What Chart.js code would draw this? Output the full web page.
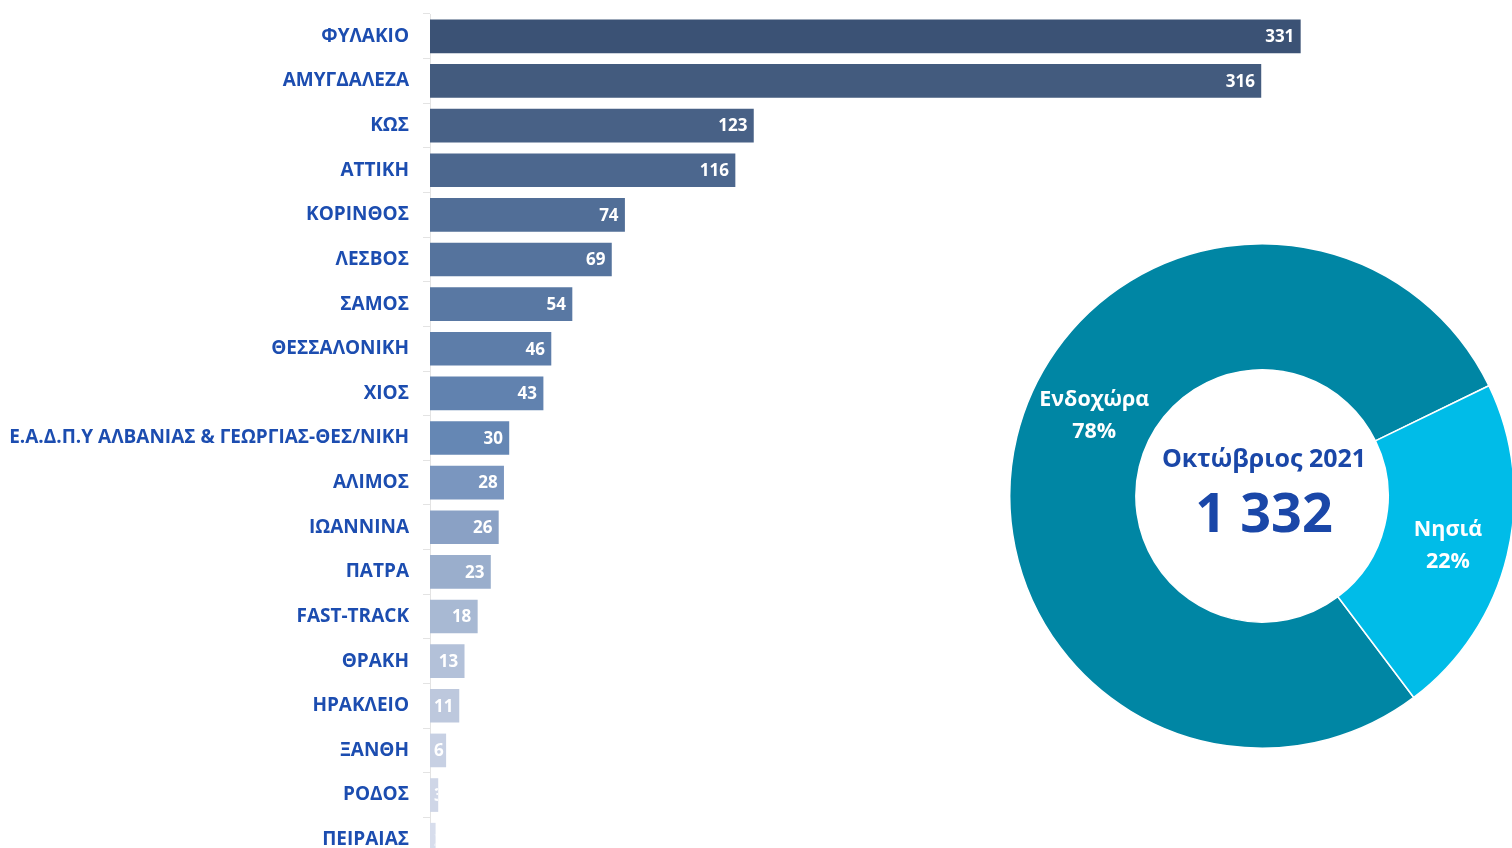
<!DOCTYPE html>
<html>
<head>
<meta charset="utf-8">
<script src="https://cdn.jsdelivr.net/npm/chart.js@4.4.1/dist/chart.umd.min.js"></script>
<style>
  html, body { margin:0; padding:0; background:#fff; width:1512px; height:848px; overflow:hidden; }
  #bars { position:absolute; left:0; top:0; }
  #donut { position:absolute; left:1009px; top:243px; }
</style>
</head>
<body>
<canvas id="bars" width="1324" height="862"></canvas>
<canvas id="donut" width="506" height="506"></canvas>
<script>
var locations = ['ΦΥΛΑΚΙΟ','ΑΜΥΓΔΑΛΕΖΑ','ΚΩΣ','ΑΤΤΙΚΗ','ΚΟΡΙΝΘΟΣ','ΛΕΣΒΟΣ','ΣΑΜΟΣ','ΘΕΣΣΑΛΟΝΙΚΗ','ΧΙΟΣ',
  'Ε.Α.Δ.Π.Υ ΑΛΒΑΝΙΑΣ & ΓΕΩΡΓΙΑΣ-ΘΕΣ/ΝΙΚΗ','ΑΛΙΜΟΣ','ΙΩΑΝΝΙΝΑ','ΠΑΤΡΑ','FAST-TRACK','ΘΡΑΚΗ','ΗΡΑΚΛΕΙΟ','ΞΑΝΘΗ','ΡΟΔΟΣ','ΠΕΙΡΑΙΑΣ'];
var counts = [331,316,123,116,74,69,54,46,43,30,28,26,23,18,13,11,6,3,2];
var barColors = ['#3b5275','#435b7e','#486186','#4c678e','#516e97','#55739d','#5978a3','#5d7da9','#6182af','#6587b4',
  '#7a96bf','#8aa1c5','#9aaecc','#a8b9d3','#b3c1d9','#bdc8dd','#c7d0e3','#cfd6e7','#d7ddec'];

var regions = ['Ενδοχώρα','Νησιά'];
var regionCounts = [1040,292];
var regionColors = ['#0086a4','#00bce8'];
var periodTitle = 'Οκτώβριος 2021';
var totalText = '1 332';

var blue = '#1c4db0';
var fontFam = '"Open Sans", "Noto Sans", sans-serif';

// white value labels at the inner end of each bar, clipped to the bar
var barValues = {
  id: 'barValues',
  afterDatasetsDraw: function(chart)
  {
    var ctx = chart.ctx;
    var meta = chart.getDatasetMeta(0);
    ctx.save();
    ctx.font = 'bold 17px ' + fontFam;
    ctx.fillStyle = '#ffffff';
    ctx.textBaseline = 'middle';
    ctx.textAlign = 'right';
    meta.data.forEach(function(bar, i)
    {
      var txt = String(counts[i]);
      var w = ctx.measureText(txt).width;
      var x = Math.max(bar.x - 6, bar.base + 4 + w);
      ctx.save();
      ctx.beginPath();
      ctx.rect(bar.base, bar.y - bar.height/2, bar.x - bar.base, bar.height);
      ctx.clip();
      ctx.fillText(txt, x, bar.y + 1);
      ctx.restore();
    });
    ctx.restore();
  }
};

new Chart(document.getElementById('bars'), {
  type: 'bar',
  data: {
    labels: locations,
    datasets: [{ data: counts, backgroundColor: barColors, borderWidth: 0, barThickness: 33 }]
  },
  options: {
    indexAxis: 'y',
    responsive: false,
    animation: false,
    layout: { padding: { top: 14, bottom: 0, right: 0, left: 0 } },
    plugins: { legend: { display: false }, tooltip: { enabled: false } },
    scales: {
      x: { display: false, min: 0, max: 340 },
      y: {
        afterFit: function(scale) {
          scale.width = 430;
          scale.paddingTop = 0;
          scale.paddingBottom = 0;
        },
        border: { display: true, color: '#e3e3e3', width: 1 },
        grid: { drawOnChartArea: false, drawTicks: true, tickLength: 7, color: '#e3e3e3', offset: true },
        ticks: { color: blue, padding: 14, font: { family: fontFam, size: 19, weight: 'bold' } }
      }
    }
  },
  plugins: [barValues]
});

// labels on the ring plus the centre title and total
var labelFrac = [0.545, 0.5];
var labelDrop = [3, 6];
var donutText = {
  id: 'donutText',
  afterDatasetsDraw: function(chart)
  {
    var ctx = chart.ctx;
    var meta = chart.getDatasetMeta(0);
    var total = regionCounts.reduce(function(a,b){ return a+b; }, 0);
    ctx.save();
    ctx.textAlign = 'center';
    ctx.textBaseline = 'middle';
    ctx.fillStyle = '#ffffff';
    ctx.font = 'bold 21.5px ' + fontFam;
    meta.data.forEach(function(arc, i)
    {
      var a = arc.startAngle + labelFrac[i] * (arc.endAngle - arc.startAngle);
      var r = (arc.innerRadius + arc.outerRadius) / 2;
      var x = arc.x + r * Math.cos(a) + 2;
      var y = arc.y + r * Math.sin(a) + labelDrop[i];
      ctx.fillText(regions[i], x, y - 16);
      ctx.fillText(Math.round(regionCounts[i] * 100 / total) + '%', x, y + 16);
    });
    var c = meta.data[0];
    ctx.fillStyle = '#1a47a8';
    ctx.font = 'bold 25px ' + fontFam;
    ctx.fillText(periodTitle, c.x + 2, c.y - 36);
    ctx.font = 'bold 54px ' + fontFam;
    ctx.fillText(totalText, c.x + 2, c.y + 21);
    ctx.restore();
  }
};

new Chart(document.getElementById('donut'), {
  type: 'doughnut',
  data: {
    labels: regions,
    datasets: [{ data: regionCounts, backgroundColor: regionColors, borderColor: '#ffffff', borderWidth: 1.5 }]
  },
  options: {
    responsive: false,
    animation: false,
    cutout: '50%',
    rotation: 143,
    layout: { padding: 0 },
    plugins: { legend: { display: false }, tooltip: { enabled: false } }
  },
  plugins: [donutText]
});
</script>
</body>
</html>
